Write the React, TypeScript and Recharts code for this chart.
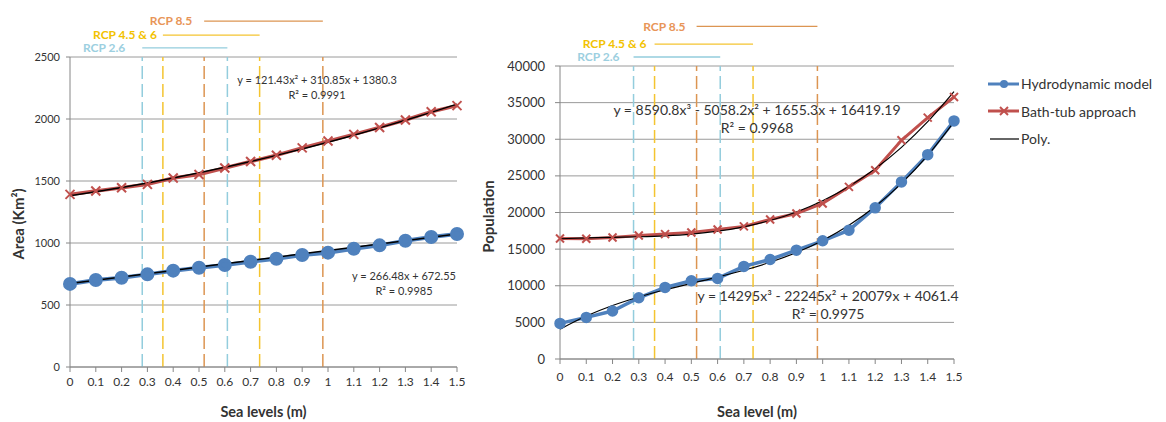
import React from "react";
import { CartesianGrid, Line, LineChart, ReferenceLine, XAxis, YAxis } from "recharts";

const seaLevels = [0, 0.1, 0.2, 0.3, 0.4, 0.5, 0.6, 0.7, 0.8, 0.9, 1, 1.1, 1.2, 1.3, 1.4, 1.5];

// flooded area (km2)
const areaHydro = [670, 702, 720, 747, 777, 801, 823, 849, 873, 903, 922, 954, 981, 1018, 1048, 1073];
const areaBathtub = [1392, 1419, 1446, 1473, 1524, 1552, 1605, 1657, 1708, 1767, 1822, 1876, 1932, 1992, 2059, 2108];
const areaHydroFit = [672.6, 699.2, 725.8, 752.5, 779.1, 805.8, 832.4, 859.1, 885.7, 912.4, 939.0, 965.7, 992.3, 1019.0, 1045.6, 1072.3];
const areaBathtubFit = [1380.3, 1412.6, 1447.3, 1484.5, 1524.1, 1566.1, 1610.5, 1657.4, 1706.7, 1758.4, 1812.6, 1869.2, 1928.2, 1989.6, 2053.5, 2119.8];

// population
const popHydro = [4860, 5680, 6550, 8360, 9770, 10680, 11000, 12640, 13590, 14860, 16140, 17590, 20640, 24180, 27900, 32500];
const popBathtub = [16450, 16410, 16590, 16860, 17050, 17270, 17680, 18100, 19050, 19860, 21230, 23500, 25770, 29860, 32950, 35770];
const popHydroFit = [4061, 5861, 7302, 8469, 9449, 10327, 11188, 12120, 13207, 14535, 16190, 18259, 20825, 23976, 27797, 32374];
const popBathtubFit = [16419, 16543, 16617, 16692, 16822, 17056, 17447, 18046, 18905, 20074, 21607, 23554, 25967, 28897, 32396, 36515];

const areaTicks = [0, 500, 1000, 1500, 2000, 2500];
const popTicks = [0, 5000, 10000, 15000, 20000, 25000, 30000, 35000, 40000];

const rcpNames = ["RCP 2.6", "RCP 4.5 & 6", "RCP 8.5"];
const rcpLow = [0.28, 0.36, 0.52];
const rcpHigh = [0.61, 0.735, 0.98];

const BLUE = "#4f81bd";
const RED = "#c0504d";
const rcpLine = ["#93cddd", "#f4c430", "#dc9552"];
const rcpText = ["#9ccfe0", "#f2c200", "#e89558"];
const FONT = "Lato, 'Open Sans', sans-serif";
const TEXT = "#333333";
const AXIS = "#868686";

const areaRows = seaLevels.map((x, i) => ({
  x,
  hydro: areaHydro[i],
  bath: areaBathtub[i],
  hydroFit: areaHydroFit[i],
  bathFit: areaBathtubFit[i],
}));

const popRows = seaLevels.map((x, i) => ({
  x,
  hydro: popHydro[i],
  bath: popBathtub[i],
  hydroFit: popHydroFit[i],
  bathFit: popBathtubFit[i],
}));

const Cross = (props: any) => {
  const { cx, cy } = props;
  if (cx == null || cy == null) return null;
  const s = props.size ?? 4.5;
  return (
    <g>
      <line x1={cx - s} y1={cy - s} x2={cx + s} y2={cy + s} stroke={RED} strokeWidth={2} />
      <line x1={cx - s} y1={cy + s} x2={cx + s} y2={cy - s} stroke={RED} strokeWidth={2} />
    </g>
  );
};

function rcpMarks(levels: number[], offsets: number[]) {
  const out: React.ReactNode[] = [];
  rcpNames.forEach((name, i) => {
    const dash = { stroke: rcpLine[i], strokeWidth: 1.5, strokeDasharray: "13 5" };
    out.push(<ReferenceLine key={`lo${i}`} x={rcpLow[i]} {...dash} />);
    out.push(<ReferenceLine key={`hi${i}`} x={rcpHigh[i]} {...dash} />);
    out.push(
      <ReferenceLine
        key={`seg${i}`}
        segment={[
          { x: rcpLow[i], y: levels[i] },
          { x: rcpHigh[i], y: levels[i] },
        ]}
        ifOverflow="visible"
        stroke={rcpLine[i]}
        strokeWidth={1.3}
        label={{ value: name, position: "left", offset: offsets[i], fill: rcpText[i], fontSize: 12, fontWeight: 700 }}
      />
    );
  });
  return out;
}

const yTitle = (text: string, dx: number, dy: number) => (p: any) => {
  const vb = p.viewBox;
  const x = vb.x + dx;
  const y = vb.y + vb.height / 2 + dy;
  return (
    <text x={x} y={y} transform={`rotate(-90 ${x} ${y})`} textAnchor="middle" dominantBaseline="central" fill={TEXT} fontSize={15} fontWeight={700}>
      {text}
    </text>
  );
};

const Note = ({ cx, top, size, lh, lines }: { cx: number; top: number; size: number; lh: number; lines: string[] }) => (
  <div
    style={{
      position: "absolute",
      left: cx,
      top,
      transform: "translateX(-50%)",
      textAlign: "center",
      whiteSpace: "nowrap",
      fontSize: size,
      lineHeight: `${lh}px`,
      color: TEXT,
    }}
  >
    {lines.map((l) => (
      <div key={l}>{l}</div>
    ))}
  </div>
);

const legendItems = [
  { name: "Hydrodynamic model", kind: "hydro" },
  { name: "Bath-tub approach", kind: "bath" },
  { name: "Poly.", kind: "fit" },
];

const LegendIcon = ({ kind }: { kind: string }) => (
  <svg width={32} height={14} style={{ display: "block" }}>
    {kind === "hydro" && (
      <>
        <line x1={0} y1={7} x2={31} y2={7} stroke={BLUE} strokeWidth={3} />
        <circle cx={16} cy={7} r={4} fill={BLUE} />
      </>
    )}
    {kind === "bath" && (
      <>
        <line x1={0} y1={7} x2={31} y2={7} stroke={RED} strokeWidth={3} />
        <Cross cx={16} cy={7} size={4} />
      </>
    )}
    {kind === "fit" && <line x1={2} y1={7} x2={31} y2={7} stroke="#000" strokeWidth={1.2} />}
  </svg>
);

export default function App() {
  return (
    <div style={{ position: "absolute", left: 0, top: 0, width: 1166, height: 422, background: "#fff", fontFamily: FONT, overflow: "hidden" }}>
      <div style={{ position: "absolute", left: 0, top: 0 }}>
        <LineChart width={480} height={422} data={areaRows} margin={{ top: 57, right: 23, bottom: 0, left: 0 }}>
          <CartesianGrid vertical={false} stroke="#9a9a9a" />
          <XAxis
            type="number"
            dataKey="x"
            domain={[0, 1.5]}
            ticks={seaLevels}
            interval={0}
            height={55}
            stroke={AXIS}
            tickSize={5}
            tickMargin={5}
            tick={{ fill: TEXT, fontSize: 12 }}
            label={{ value: "Sea levels (m)", position: "insideBottom", offset: 5, fill: TEXT, fontSize: 14.5, fontWeight: 700 }}
          />
          <YAxis
            domain={[0, 2500]}
            ticks={areaTicks}
            width={70}
            stroke={AXIS}
            tickSize={4}
            tickMargin={6}
            tick={{ fill: TEXT, fontSize: 11 }}
            label={{ content: yTitle("Area (Km²)", 18, 12) }}
          />
          {rcpMarks([2573, 2677, 2790], [17, 6, 12])}
          <Line type="linear" dataKey="bath" stroke={RED} strokeWidth={3.5} dot={<Cross />} isAnimationActive={false} />
          <Line type="linear" dataKey="hydro" stroke={BLUE} strokeWidth={4} dot={{ r: 5, fill: BLUE, stroke: BLUE }} isAnimationActive={false} />
          <Line type="monotone" dataKey="bathFit" stroke="#000" strokeWidth={1.5} dot={false} isAnimationActive={false} />
          <Line type="linear" dataKey="hydroFit" stroke="#000" strokeWidth={1.5} dot={false} isAnimationActive={false} />
        </LineChart>
      </div>

      <div style={{ position: "absolute", left: 480, top: 0 }}>
        <LineChart width={686} height={422} data={popRows} margin={{ top: 66, right: 212, bottom: 0, left: 0 }}>
          <CartesianGrid vertical={false} stroke="#9a9a9a" />
          <XAxis
            type="number"
            dataKey="x"
            domain={[0, 1.5]}
            ticks={seaLevels}
            interval={0}
            height={63}
            stroke={AXIS}
            tickSize={5}
            tickMargin={8}
            tick={{ fill: TEXT, fontSize: 12 }}
            label={{ value: "Sea level (m)", position: "insideBottom", offset: 5, fill: TEXT, fontSize: 14.5, fontWeight: 700 }}
          />
          <YAxis
            domain={[0, 40000]}
            ticks={popTicks}
            width={80}
            stroke={AXIS}
            tickSize={5}
            tickMargin={10}
            tick={{ fill: TEXT, fontSize: 13 }}
            label={{ content: yTitle("Population", 8, 4) }}
          />
          {rcpMarks([41230, 43000, 45410], [14, 8, 11])}
          <Line type="linear" dataKey="bath" stroke={RED} strokeWidth={3} dot={<Cross size={4} />} isAnimationActive={false} />
          <Line type="linear" dataKey="hydro" stroke={BLUE} strokeWidth={3.5} dot={{ r: 4, fill: BLUE, stroke: BLUE }} isAnimationActive={false} />
          <Line type="monotone" dataKey="bathFit" stroke="#000" strokeWidth={1.2} dot={false} isAnimationActive={false} />
          <Line type="monotone" dataKey="hydroFit" stroke="#000" strokeWidth={1.2} dot={false} isAnimationActive={false} />
        </LineChart>
      </div>

      <Note cx={317} top={72} size={11} lh={15} lines={["y = 121.43x² + 310.85x + 1380.3", "R² = 0.9991"]} />
      <Note cx={404} top={268} size={11} lh={15} lines={["y = 266.48x + 672.55", "R² = 0.9985"]} />
      <Note cx={757} top={101} size={14} lh={18} lines={["y = 8590.8x³ - 5058.2x² + 1655.3x + 16419.19", "R² = 0.9968"]} />
      <Note cx={828} top={287} size={14} lh={18} lines={["y = 14295x³ - 22245x² + 20079x + 4061.4", "R² = 0.9975"]} />

      <div style={{ position: "absolute", left: 988, top: 70 }}>
        {legendItems.map((it) => (
          <div key={it.name} style={{ display: "flex", alignItems: "center", height: 27.5, fontSize: 14, color: TEXT, whiteSpace: "nowrap" }}>
            <LegendIcon kind={it.kind} />
            <span style={{ marginLeft: 1 }}>{it.name}</span>
          </div>
        ))}
      </div>
    </div>
  );
}
